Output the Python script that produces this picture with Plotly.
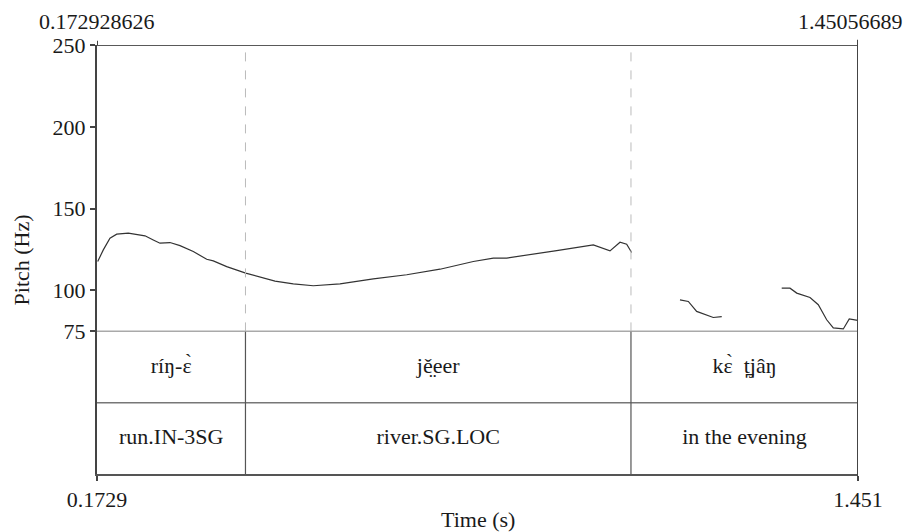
import plotly.graph_objects as go

# ---------------- data ----------------
t_start = 0.172928626
t_end = 1.45056689
boundaries = [0.4222, 1.0694]

words = ["ríŋ-ɛ̀", "jě̤eer", "kɛ̀ \u00a0t̪jâŋ"]
glosses = ["run.IN-3SG", "river.SG.LOC", "in the evening"]

seg1_t = [0.1741, 0.1835, 0.1947, 0.2060, 0.2255, 0.2535, 0.2674, 0.2787, 0.2955,
          0.3123, 0.3346, 0.3571, 0.3682, 0.3907, 0.4226, 0.4466, 0.4718, 0.5025,
          0.5361, 0.5809, 0.6368, 0.6929, 0.7488, 0.8047, 0.8383, 0.8608, 0.8999,
          0.9447, 1.0062, 1.0203, 1.0342, 1.0510, 1.0622, 1.0705]
seg1_f = [117.7, 124.8, 132.0, 134.4, 135.0, 133.4, 130.9, 128.9, 129.3,
          127.4, 123.8, 119.1, 118.1, 114.6, 110.6, 108.2, 105.7, 104.1,
          102.9, 104.1, 107.1, 109.6, 113.0, 117.7, 119.8, 119.8, 121.8,
          124.4, 127.9, 126.2, 124.2, 129.5, 128.3, 123.2]

seg2_t = [1.1517, 1.1657, 1.1797, 1.1937, 1.2076, 1.2218]
seg2_f = [94.3, 93.3, 87.2, 85.2, 83.5, 84.0]

seg3_t = [1.3225, 1.3364, 1.3477, 1.3700, 1.3839, 1.3980, 1.4091, 1.4259, 1.4359, 1.4500]
seg3_f = [101.4, 101.4, 98.4, 95.7, 91.3, 82.1, 77.1, 76.5, 82.6, 81.7]

pitch_ticks = [75, 100, 150, 200, 250]
x_tick_text = ["0.1729", "1.451"]
top_labels = ["0.172928626", "1.45056689"]

# ---------------- figure ----------------
FONT = "Liberation Serif, Times New Roman, serif"
TXT = "#1a1a1a"
FS = 22

fig = go.Figure()

pitch_t = seg1_t + [None] + seg2_t + [None] + seg3_t
pitch_f = seg1_f + [None] + seg2_f + [None] + seg3_f
fig.add_trace(go.Scatter(x=pitch_t, y=pitch_f, mode="lines",
                         line=dict(color="#333333", width=1.2),
                         connectgaps=False, hoverinfo="skip", showlegend=False,
                         xaxis="x", yaxis="y"))

edges = [t_start] + boundaries + [t_end]
mids = [(edges[i] + edges[i + 1]) / 2 for i in range(len(words))]
fig.add_trace(go.Scatter(x=mids, y=[1.5] * len(words), mode="text", text=words,
                         textfont=dict(family=FONT, size=FS, color=TXT),
                         hoverinfo="skip", showlegend=False, xaxis="x", yaxis="y2"))
fig.add_trace(go.Scatter(x=mids, y=[0.5] * len(glosses), mode="text", text=glosses,
                         textfont=dict(family=FONT, size=FS, color=TXT),
                         hoverinfo="skip", showlegend=False, xaxis="x", yaxis="y2"))

shapes = []
# top line
shapes.append(dict(type="line", xref="x", yref="y", x0=t_start, x1=t_end, y0=250, y1=250,
                   line=dict(color="#222222", width=1.5)))
# 75 Hz line / tier top
shapes.append(dict(type="line", xref="x", yref="y", x0=t_start, x1=t_end, y0=75, y1=75,
                   line=dict(color="#555555", width=1.5)))
# tier separator
shapes.append(dict(type="line", xref="x", yref="y2", x0=t_start, x1=t_end, y0=1, y1=1,
                   line=dict(color="#777777", width=1.5)))
# right frame line
shapes.append(dict(type="line", xref="x", yref="paper", x0=t_end, x1=t_end, y0=-0.012, y1=1.012,
                   line=dict(color="#444444", width=2)))
# top-left corner tick
shapes.append(dict(type="line", xref="x", yref="paper", x0=t_start, x1=t_start, y0=1.0, y1=1.01,
                   line=dict(color="#444444", width=2)))
for b in boundaries:
    shapes.append(dict(type="line", xref="x", yref="y", x0=b, x1=b, y0=75, y1=250,
                       line=dict(color="#bbbbbb", width=1, dash="dash")))
    shapes.append(dict(type="line", xref="x", yref="y2", x0=b, x1=b, y0=0, y1=2,
                       line=dict(color="#555555", width=1.2)))

annotations = [
    dict(text=top_labels[0], xref="x", yref="paper", x=t_start, y=1.0, yshift=9,
         xanchor="center", yanchor="bottom", showarrow=False,
         font=dict(family=FONT, size=FS, color=TXT)),
    dict(text=top_labels[1], xref="paper", yref="paper", x=1.0617, y=1.0, yshift=9,
         xanchor="right", yanchor="bottom", showarrow=False,
         font=dict(family=FONT, size=FS, color=TXT)),
    dict(text="Pitch (Hz)", xref="paper", yref="paper", x=-0.0986, y=0.5, textangle=-90,
         xanchor="center", yanchor="middle", showarrow=False,
         font=dict(family=FONT, size=FS, color=TXT)),
    dict(text="Time (s)", xref="paper", yref="paper", x=0.5, y=-0.1065,
         xanchor="center", yanchor="middle", showarrow=False,
         font=dict(family=FONT, size=FS, color=TXT)),
]

split = 142.6 / 429.0

# page body has an 8px margin: size and margins compensate so the plot frame
# lands at x 97..858, y 45..474 in the window
fig.update_layout(
    width=905, height=524,
    margin=dict(l=89, r=55, t=37, b=58),
    paper_bgcolor="white", plot_bgcolor="white",
    showlegend=False,
    xaxis=dict(domain=[0, 1], range=[t_start, t_end], anchor="y2",
               tickvals=[t_start, t_end], ticktext=x_tick_text,
               ticks="outside", ticklen=5, tickwidth=2, tickcolor="#444444",
               showline=True, linecolor="#555555", linewidth=2,
               showgrid=False, zeroline=False,
               tickfont=dict(family=FONT, size=FS, color=TXT)),
    yaxis=dict(domain=[split, 1], range=[75, 250], anchor="x",
               tickvals=pitch_ticks, ticks="outside", ticklen=5, tickwidth=1.5,
               tickcolor="#444444", showline=True, linecolor="#444444", linewidth=2,
               showgrid=False, zeroline=False,
               tickfont=dict(family=FONT, size=FS, color=TXT)),
    yaxis2=dict(domain=[0, split], range=[0, 2], anchor="x",
                showticklabels=False, ticks="", showline=True,
                linecolor="#444444", linewidth=2,
                showgrid=False, zeroline=False),
    shapes=shapes,
    annotations=annotations,
)

fig.write_html("out.html")
